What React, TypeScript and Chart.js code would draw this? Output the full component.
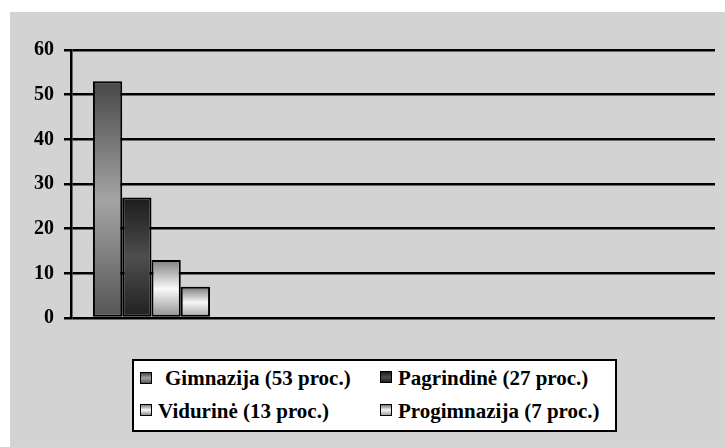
import React, { useEffect, useRef } from "react";
import { Chart, registerables } from "chart.js";

Chart.register(...registerables);

const categories = ["", "", "", ""];
const seriesNames = [
  "Gimnazija (53 proc.)",
  "Pagrindinė (27 proc.)",
  "Vidurinė (13 proc.)",
  "Progimnazija (7 proc.)",
];
const seriesValues = [53, 27, 13, 7];
const yTicks = [0, 10, 20, 30, 40, 50, 60];

const gradients: string[][] = [
  ["#474747", "#a4a4a4", "#555555"],
  ["#1c1c1c", "#4e4e4e", "#1f1f1f"],
  ["#7e7e7e", "#fbfbfb", "#8c8c8c"],
  ["#777777", "#f6f6f6", "#a2a2a2"],
];

const FONT = '"Liberation Serif", "Times New Roman", serif';

export default function App() {
  const ref = useRef<HTMLCanvasElement | null>(null);

  useEffect(() => {
    const canvas = ref.current;
    if (!canvas) return;
    const datasets = seriesNames.map((name, i) => ({
      label: name,
      data: categories.map((_, ci) => (ci === 0 ? seriesValues[i] : null)),
      backgroundColor: (c: any) => {
        const chart = c.chart;
        const v = c.raw;
        const y = chart.scales && chart.scales.y;
        if (v == null || !y) return gradients[i][1];
        const top = y.getPixelForValue(v);
        const bot = y.getPixelForValue(0);
        if (!isFinite(top) || !isFinite(bot) || top === bot) return gradients[i][1];
        const g = chart.ctx.createLinearGradient(0, top, 0, bot);
        g.addColorStop(0, gradients[i][0]);
        g.addColorStop(0.5, gradients[i][1]);
        g.addColorStop(1, gradients[i][2]);
        return g;
      },
      borderColor: "#000",
      borderWidth: 2,
      borderSkipped: false as any,
      categoryPercentage: 4 / 5.5,
      barPercentage: 1.0,
    }));

    const chart = new Chart(canvas, {
      type: "bar",
      data: { labels: categories, datasets },
      options: {
        animation: false,
        responsive: false,
        maintainAspectRatio: false,
        layout: { padding: { left: 0, right: 10, top: 50, bottom: 129 } },
        plugins: { legend: { display: false }, tooltip: { enabled: false } },
        scales: {
          x: { display: false, grid: { display: false } },
          y: {
            min: yTicks[0],
            max: yTicks[yTicks.length - 1],
            afterBuildTicks: (s: any) => {
              s.ticks = yTicks.map((v) => ({ value: v }));
            },
            afterFit: (s: any) => {
              s.width = 71;
            },
            ticks: {
              color: "#000",
              padding: 10,
              font: { family: FONT, size: 20, weight: "bold" },
            },
            grid: { color: "#000", lineWidth: 2.5, tickLength: 7 },
            border: { color: "#000", width: 2.5 },
          },
        },
      } as any,
    });
    return () => chart.destroy();
  }, []);

  const markerPos = [
    { x: 140, y: 372 },
    { x: 380, y: 371 },
    { x: 140, y: 404 },
    { x: 380, y: 404 },
  ];
  const textPos = [
    { x: 165, y: 368 },
    { x: 398, y: 368 },
    { x: 158, y: 401 },
    { x: 398, y: 401 },
  ];

  return (
    <div
      style={{
        position: "fixed",
        left: 0,
        top: 0,
        width: 725,
        height: 447,
        background: "#fff",
        overflow: "hidden",
      }}
    >
      <div
        style={{
          position: "absolute",
          left: 10,
          top: 12,
          right: 0,
          bottom: 0,
          background: "#d3d3d3",
        }}
      />
      <canvas
        ref={ref}
        width={725}
        height={447}
        style={{ position: "absolute", left: 0, top: 0, width: 725, height: 447 }}
      />
      <div
        style={{
          position: "absolute",
          left: 132,
          top: 359,
          width: 485,
          height: 73,
          boxSizing: "border-box",
          border: "2px solid #000",
          background: "#fff",
        }}
      />
      {seriesNames.map((name, i) => (
        <React.Fragment key={name}>
          <div
            style={{
              position: "absolute",
              left: markerPos[i].x,
              top: markerPos[i].y,
              width: 12,
              height: 12,
              boxSizing: "border-box",
              border: "1.5px solid #000",
              background: `linear-gradient(to bottom, ${gradients[i][0]}, ${gradients[i][1]}, ${gradients[i][2]})`,
            }}
          />
          <div
            style={{
              position: "absolute",
              left: textPos[i].x,
              top: textPos[i].y,
              font: `bold 21px ${FONT}`,
              lineHeight: "21px",
              color: "#000",
              whiteSpace: "nowrap",
            }}
          >
            {name}
          </div>
        </React.Fragment>
      ))}
    </div>
  );
}
